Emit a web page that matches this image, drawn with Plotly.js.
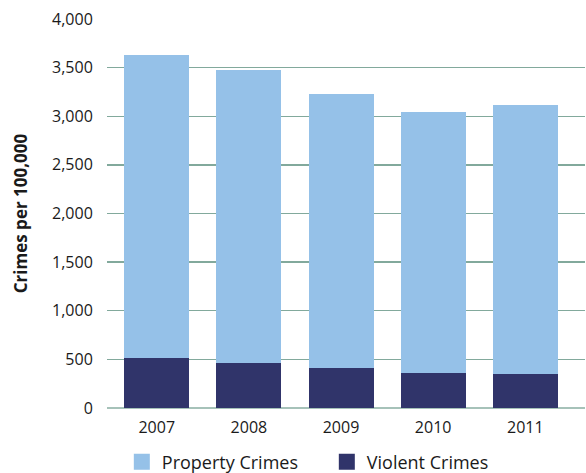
<!DOCTYPE html>
<html>
<head>
<meta charset="utf-8">
<script src="https://cdn.plot.ly/plotly-3.0.1.min.js"></script>
<style>html,body{margin:0;padding:0;background:#fff;}#chart{width:586px;height:473px;}</style>
</head>
<body>
<div id="chart"></div>
<script>
var years = ['2007', '2008', '2009', '2010', '2011'];
var violentCrimes = [514, 463, 411, 360, 350];
var propertyCrimes = [3116, 3017, 2818, 2684, 2766];
var seriesNames = ['Property Crimes', 'Violent Crimes'];
var seriesColors = ['#95c1e8', '#30346a'];
var yTickVals = [0, 500, 1000, 1500, 2000, 2500, 3000, 3500, 4000];
var yTickText = ['0', '500', '1,000', '1,500', '2,000', '2,500', '3,000', '3,500', '4,000'];

var fontFam = '"Open Sans", "Noto Sans", sans-serif';

var traces = [
  {
    type: 'bar', name: seriesNames[1], x: years, y: violentCrimes,
    marker: {color: seriesColors[1]}, width: 0.705, showlegend: false
  },
  {
    type: 'bar', name: seriesNames[0], x: years, y: propertyCrimes,
    marker: {color: seriesColors[0]}, width: 0.705, showlegend: false
  },
  // legend entries (square swatches)
  {
    type: 'scatter', mode: 'markers', name: seriesNames[0], x: [null], y: [null],
    marker: {symbol: 'square', size: 16, color: seriesColors[0]}, showlegend: true, hoverinfo: 'skip'
  },
  {
    type: 'scatter', mode: 'markers', name: seriesNames[1], x: [null], y: [null],
    marker: {symbol: 'square', size: 16, color: seriesColors[1]}, showlegend: true, hoverinfo: 'skip'
  }
];

var layout = {
  width: 586, height: 473,
  margin: {l: 107, r: 1, t: 19, b: 65, autoexpand: false},
  barmode: 'stack',
  paper_bgcolor: '#ffffff', plot_bgcolor: '#ffffff',
  font: {family: fontFam, size: 16, color: '#1a1a1a'},
  xaxis: {
    type: 'category', range: [-0.54, 4.648],
    showgrid: false, zeroline: false, showline: false,
    ticks: '', ticklabelstandoff: 8, tickfont: {size: 16, color: '#1a1a1a'}
  },
  yaxis: {
    range: [0, 4000], tickvals: yTickVals, ticktext: yTickText,
    showgrid: true, gridcolor: '#82a99c', gridwidth: 1.3,
    zeroline: true, zerolinecolor: '#a6c2b9', zerolinewidth: 2.5,
    showline: false, ticks: 'outside', ticklen: 10, tickcolor: 'rgba(0,0,0,0)',
    tickfont: {size: 16, color: '#1a1a1a'},
    title: {text: 'Crimes per 100,000', font: {size: 17, color: '#1a1a1a', weight: 'bold'}, standoff: 20}
  },
  legend: {
    orientation: 'h', x: 0.031, xanchor: 'left', y: -0.139, yanchor: 'middle',
    traceorder: 'normal', font: {size: 18, color: '#1a1a1a'},
    entrywidth: 160, entrywidthmode: 'pixels', itemwidth: 30
  }
};

Plotly.newPlot('chart', traces, layout, {displayModeBar: false, staticPlot: true});
</script>
</body>
</html>
